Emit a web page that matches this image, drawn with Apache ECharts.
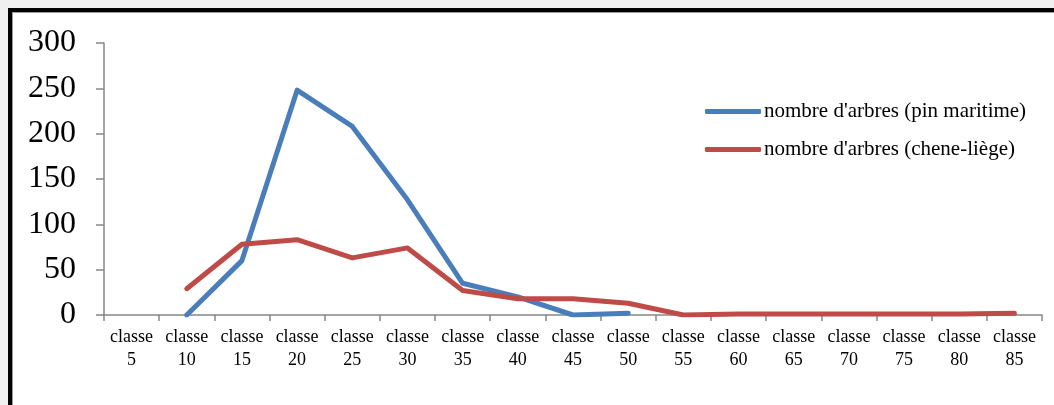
<!DOCTYPE html>
<html><head><meta charset="utf-8">
<script src="https://cdn.jsdelivr.net/npm/echarts@6/dist/echarts.min.js"></script>
<style>html,body{margin:0;padding:0;background:#f0f0f0;}#c{width:1054px;height:405px;}</style>
</head><body><div id="c"></div>
<script>
const categories = ['classe\n5','classe\n10','classe\n15','classe\n20','classe\n25','classe\n30','classe\n35','classe\n40','classe\n45','classe\n50','classe\n55','classe\n60','classe\n65','classe\n70','classe\n75','classe\n80','classe\n85'];
const pinMaritime = [null,0,60,248,208,127,35,20,0,2,null,null,null,null,null,null,null];
const cheneLiege = [null,29,78,83,63,74,27,18,18,13,0,1,1,1,1,1,2];
const seriesNames = ["nombre d'arbres (pin maritime)", "nombre d'arbres (chene-liège)"];
const yTicks = {min:0, max:300, interval:50};

const font = 'Liberation Serif';
const chart = echarts.init(document.getElementById('c'));
chart.setOption({
  backgroundColor: '#f0f0f0',
  animation: false,
  graphic: [
    {type:'rect', z:-10, shape:{x:8,y:8,width:1200,height:600}, style:{fill:'#000'}},
    {type:'rect', z:-9, shape:{x:12,y:12,width:1200,height:600}, style:{fill:'#9a9a9a'}},
    {type:'rect', z:-8, shape:{x:13,y:13,width:1200,height:600}, style:{fill:'#fff'}}
  ],
  grid: {left:104, top:43, right:12, bottom:90, containLabel:false},
  legend: {
    orient:'vertical', left:705, top:101, padding:0, itemWidth:56, itemHeight:5, itemGap:17,
    icon:'roundRect',
    textStyle:{fontFamily:font, fontSize:21, color:'#000', padding:[0,0,0,-2]},
    data: seriesNames
  },
  xAxis: {
    type:'category', data:categories, boundaryGap:true,
    axisLine:{lineStyle:{color:'#868686', width:1.5}},
    axisTick:{show:true, interval:0, length:6, lineStyle:{color:'#868686', width:1.5}},
    axisLabel:{interval:0, fontFamily:font, fontSize:18, color:'#000', lineHeight:23, margin:11}
  },
  yAxis: {
    type:'value', min:yTicks.min, max:yTicks.max, interval:yTicks.interval,
    splitLine:{show:false},
    axisLine:{show:true, lineStyle:{color:'#868686', width:1.5}},
    axisTick:{show:true, length:8, lineStyle:{color:'#868686', width:1.5}},
    axisLabel:{fontFamily:font, fontSize:32, color:'#000', margin:28}
  },
  series: [
    {name:seriesNames[0], type:'line', data:pinMaritime, showSymbol:false, symbol:'none', connectNulls:false,
     itemStyle:{color:'#4a7ebb'}, lineStyle:{color:'#4a7ebb', width:5, cap:'round', join:'round'}},
    {name:seriesNames[1], type:'line', data:cheneLiege, showSymbol:false, symbol:'none', connectNulls:false,
     itemStyle:{color:'#be4b48'}, lineStyle:{color:'#be4b48', width:5, cap:'round', join:'round'}}
  ]
});
</script></body></html>
